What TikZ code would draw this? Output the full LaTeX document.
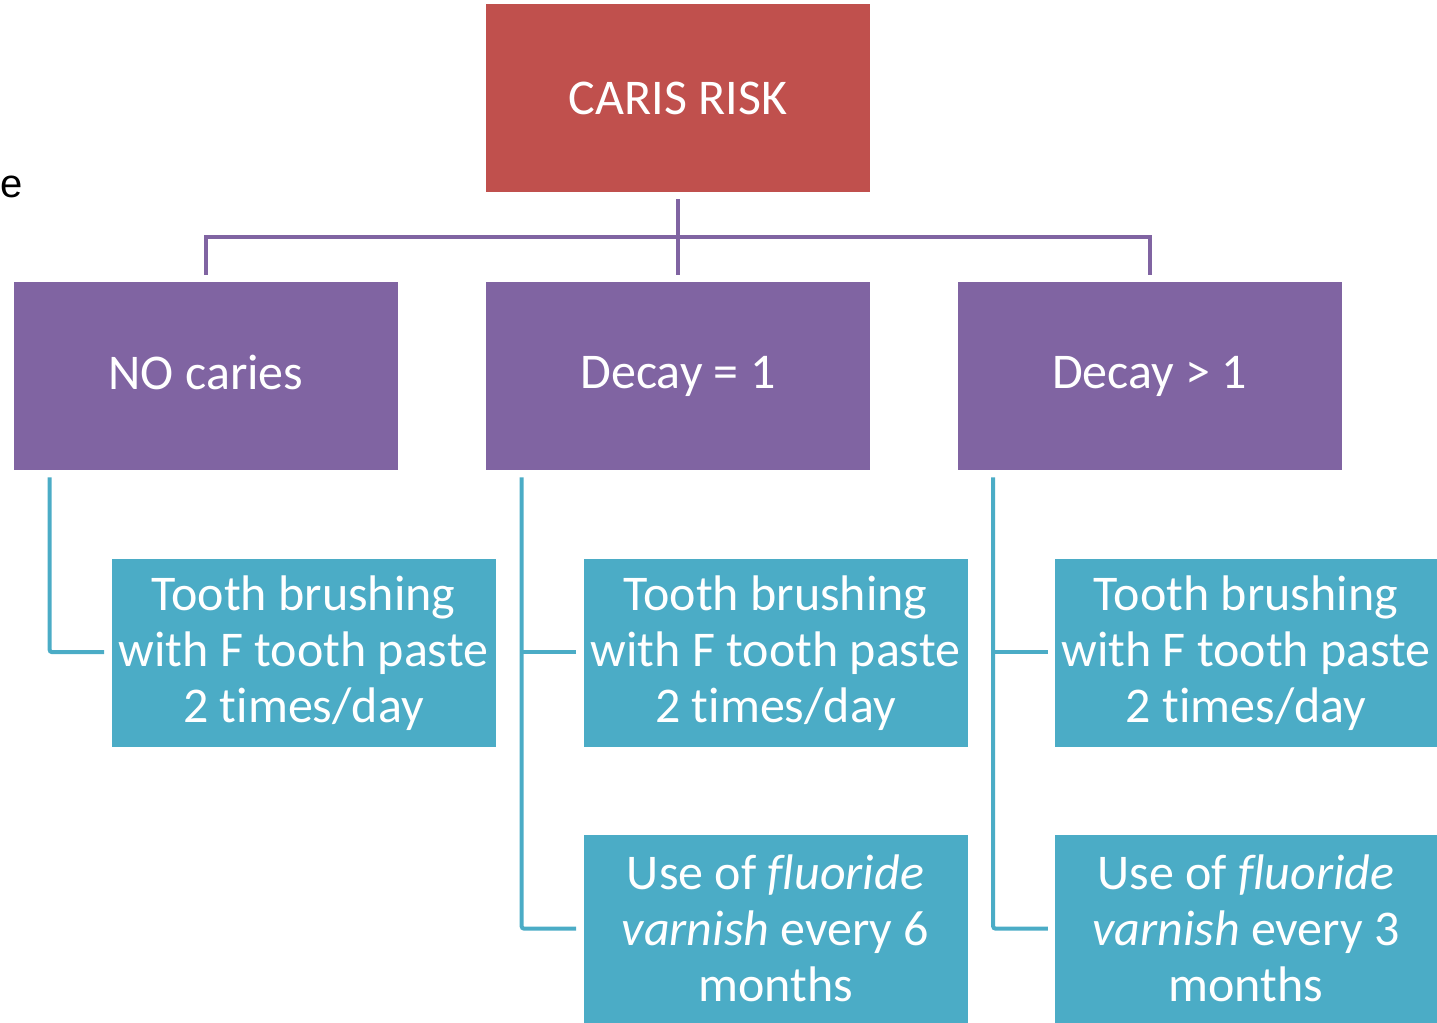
\documentclass[tikz,border=0pt]{standalone}
\usepackage{fontspec}
\setmainfont{Carlito}[Ligatures=NoCommon]
\newfontfamily\arialfont{Liberation Sans}
\usetikzlibrary{calc}
\definecolor{cred}{HTML}{C0504D}
\definecolor{cpurple}{HTML}{8064A2}
\definecolor{cteal}{HTML}{4BACC6}
\begin{document}
\begin{tikzpicture}[x=0.75pt,y=-0.75pt,
  box/.style={fill=#1, draw=none, text=white, minimum width=288pt, minimum height=141pt,
    inner sep=0pt, align=center, font=\fontsize{37.5}{42}\selectfont},
  pline/.style={draw=cpurple, line width=3pt},
  tline/.style={draw=cteal, line width=3pt, rounded corners=1.5pt}]
\useasboundingbox (0,0) rectangle (1437,1023);
\node[anchor=base west, inner sep=0pt, font=\arialfont\fontsize{30}{32}\selectfont] (frag) at (0.5,198) {e};
\node[box=cred] (caris) at (678,98) {CARIS RISK};
\node[box=cpurple] (nocaries) at (206,376) {NO caries\vphantom{y}};
\node[box=cpurple] (decay1) at (678,376) {Decay = 1};
\node[box=cpurple] (decaymore) at (1149.5,376) {Decay {>} 1};
\node[box=cteal] (t1) at (303.5,653) {Tooth brushing\\with F tooth paste\\2 times/day};
\node[box=cteal] (t2) at (775.5,653) {Tooth brushing\\with F tooth paste\\2 times/day};
\node[box=cteal, minimum width=286.5pt] (t3) at (1246,653) {Tooth brushing\\with F tooth paste\\2 times/day};
\node[box=cteal] (v6) at (775.5,928.5) {Use of \textit{fluoride}\\\textit{varnish} every 6\\months};
\node[box=cteal, minimum width=286.5pt] (v3) at (1246,928.5) {Use of \textit{fluoride}\\\textit{varnish} every 3\\months};
% purple connectors
\draw[pline] ($(caris.south)+(0,7)$) -- ($(decay1.north)+(0,-7)$);
\draw[pline] ($(nocaries.north)+(0,-7)$) |- ($(caris.south)!0.5!(decay1.north)$) -| ($(decaymore.north)+(0,-7)$);
% teal connectors
\draw[tline] ($(nocaries.south west)+(36,7)$) |- ($(t1.west)+(-7,-1)$);
\draw[tline] ($(decay1.south west)+(36,7)$) |- ($(v6.west)+(-7,0)$);
\draw[tline] ($(t2.west)+(-7,-1)$) -- ($(t2.west)+(-62,-1)$);
\draw[tline] ($(decaymore.south west)+(36,7)$) |- ($(v3.west)+(-7,0)$);
\draw[tline] ($(t3.west)+(-7,-1)$) -- ($(t3.west)+(-62,-1)$);
\end{tikzpicture}
\end{document}
